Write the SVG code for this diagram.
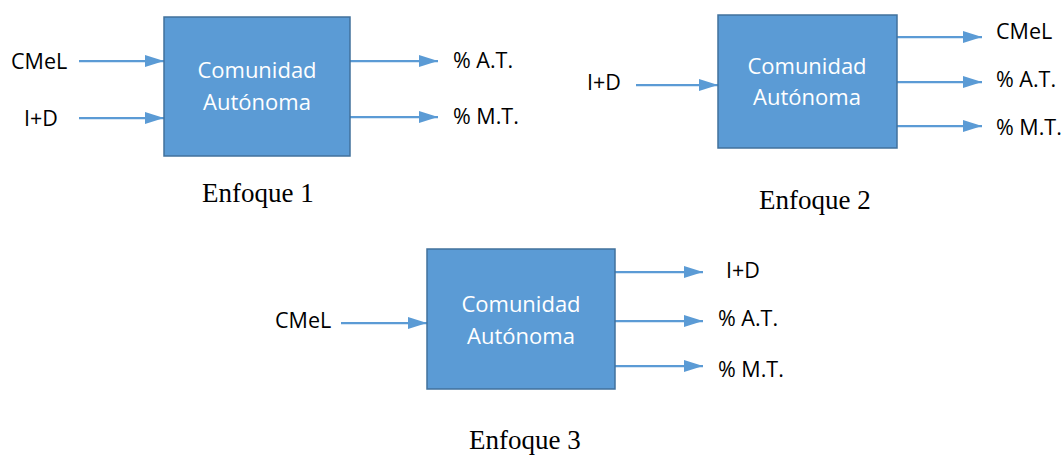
<svg xmlns="http://www.w3.org/2000/svg" width="1062" height="455" viewBox="0 0 1062 455">
<style>
.box{fill:#5B9BD5;stroke:#41719C;stroke-width:1.5}
.bt{font-family:"Open Sans","Noto Sans",sans-serif;font-size:22px;fill:#ffffff;text-anchor:middle}
.lb{font-family:"Open Sans","Noto Sans",sans-serif;font-size:21.5px;fill:#000000}
.cap{font-family:"Liberation Serif","Times New Roman",serif;font-size:27px;fill:#000000}
.arr{stroke:#5B9BD5;stroke-width:2.25;fill:none;marker-end:url(#ah)}
</style>
<defs>
<marker id="ah" markerUnits="userSpaceOnUse" markerWidth="19" markerHeight="12" refX="19" refY="6" orient="auto">
<path d="M0,0 L19,6 L0,12 z" fill="#5B9BD5"/>
</marker>
</defs>
<rect width="1062" height="455" fill="#ffffff"/>
<g id="connectors">
<line class="arr" x1="79" y1="61" x2="164" y2="61"/>
<line class="arr" x1="79" y1="118" x2="164" y2="118"/>
<line class="arr" x1="350" y1="61" x2="438" y2="61"/>
<line class="arr" x1="350" y1="117" x2="438" y2="117"/>
<line class="arr" x1="636" y1="85" x2="718" y2="85"/>
<line class="arr" x1="897" y1="37" x2="982" y2="37"/>
<line class="arr" x1="897" y1="82" x2="982" y2="82"/>
<line class="arr" x1="897" y1="126" x2="982" y2="126"/>
<line class="arr" x1="341" y1="323" x2="427" y2="323"/>
<line class="arr" x1="615" y1="272" x2="703" y2="272"/>
<line class="arr" x1="615" y1="321" x2="703" y2="321"/>
<line class="arr" x1="615" y1="366" x2="703" y2="366"/>
</g>
<g id="node1">
<rect class="box" x="164" y="17" width="186" height="139"/>
<text class="bt" x="257" y="78">Comunidad</text>
<text class="bt" x="257" y="110">Autónoma</text>
</g>
<g id="node2">
<rect class="box" x="718" y="15" width="179" height="133"/>
<text class="bt" x="807" y="74">Comunidad</text>
<text class="bt" x="807" y="105">Autónoma</text>
</g>
<g id="node3">
<rect class="box" x="427" y="249" width="188" height="140"/>
<text class="bt" x="521" y="312">Comunidad</text>
<text class="bt" x="521" y="344">Autónoma</text>
</g>
<g id="labels">
<text class="lb" x="11" y="69">CMeL</text>
<text class="lb" x="24" y="126">I+D</text>
<text class="lb" x="453" y="68">% A.T.</text>
<text class="lb" x="453" y="124">% M.T.</text>
<text class="lb" x="587" y="90">I+D</text>
<text class="lb" x="996" y="39">CMeL</text>
<text class="lb" x="996" y="87">% A.T.</text>
<text class="lb" x="996" y="135">% M.T.</text>
<text class="lb" x="275" y="328">CMeL</text>
<text class="lb" x="726" y="278">I+D</text>
<text class="lb" x="718" y="326">% A.T.</text>
<text class="lb" x="718" y="377">% M.T.</text>
<text class="cap" x="202" y="202">Enfoque 1</text>
<text class="cap" x="759" y="209">Enfoque 2</text>
<text class="cap" x="469" y="449">Enfoque 3</text>
</g>
</svg>
